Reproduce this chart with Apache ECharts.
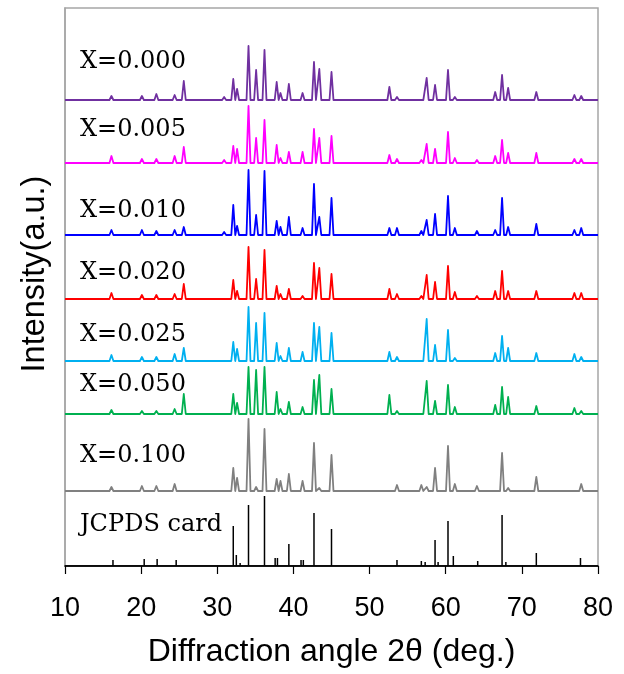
<!DOCTYPE html>
<html>
<head>
<meta charset="utf-8">
<script src="https://cdn.jsdelivr.net/npm/echarts@6/dist/echarts.min.js"></script>
<style>
html,body{margin:0;padding:0;background:#fff;}
#chart{width:624px;height:674px;}
</style>
</head>
<body>
<div id="chart"></div>
<script>
// ---- data ----
const xTicks = [10, 20, 30, 40, 50, 60, 70, 80];
const sampleNames = ['X=0.000', 'X=0.005', 'X=0.010', 'X=0.020', 'X=0.025', 'X=0.050', 'X=0.100'];
const sampleColors = ['#7030a0', '#ff00ff', '#0000ff', '#ff0000', '#00b0f0', '#00b050', '#808080'];
// vertical offsets of each stacked pattern (a.u.)
const sampleOffsets = [466, 403, 331, 267, 205, 152, 75];

// peak positions (2θ, deg.) shared by the measured patterns
const peakPos = [16.1, 18.2, 20.1, 22.0, 24.4, 25.6, 30.9, 32.1, 32.6, 34.1, 35.1, 36.2, 37.8, 38.3, 39.4, 41.2, 42.7, 43.4, 45.0, 47.6, 49.4, 50.5, 52.6, 53.6, 56.8, 57.5, 58.6, 60.3, 61.2, 64.1, 66.5, 67.4, 68.2, 71.9, 76.9, 77.8];

// peak intensities (a.u.) for each sample
const int000 = [4, 1, 4, 6, 5, 19, 3, 21, 11, 54, 30, 50, 18, 7, 16, 7, 38, 31, 28, 2, 2, 2, 13, 3, 1, 22, 15, 30, 3, 1, 8, 25, 12, 8, 5, 4];
const int005 = [7, 1, 4, 4, 7, 16, 3, 17, 14, 57, 25, 43, 18, 5, 11, 11, 34, 25, 27, 2, 2, 2, 8, 4, 3, 19, 14, 31, 5, 3, 7, 23, 10, 10, 4, 4];
const int010 = [5, 1, 5, 4, 5, 8, 3, 30, 9, 65, 20, 64, 14, 8, 18, 7, 51, 18, 37, 2, 2, 2, 7, 7, 4, 15, 21, 39, 7, 4, 5, 37, 8, 11, 5, 7];
const int020 = [6, 1, 4, 4, 5, 15, 2, 19, 8, 52, 20, 49, 13, 5, 10, 3, 36, 31, 25, 2, 2, 2, 10, 5, 3, 24, 17, 33, 7, 3, 8, 28, 8, 8, 6, 6];
const int025 = [6, 1, 4, 4, 7, 13, 2, 19, 12, 54, 38, 48, 18, 5, 13, 9, 38, 34, 28, 2, 2, 2, 9, 4, 2, 42, 16, 31, 3, 2, 8, 25, 13, 8, 7, 4];
const int050 = [4, 1, 3, 3, 5, 20, 2, 20, 11, 47, 44, 47, 22, 5, 12, 7, 34, 39, 25, 2, 2, 2, 19, 3, 2, 33, 13, 29, 7, 2, 9, 27, 17, 8, 6, 3];
const int100 = [4, 1, 5, 5, 7, 0, 2, 23, 13, 72, 4, 62, 12, 10, 17, 10, 48, 3, 36, 2, 1, 2, 0, 6, 6, 4, 23, 45, 7, 5, 2, 38, 3, 14, 2, 7];
const sampleIntensities = [int000, int005, int010, int020, int025, int050, int100];

// JCPDS reference card
const cardName = 'JCPDS card';
const cardPos = [16.3, 18.3, 20.4, 22.1, 24.6, 30.9, 32.1, 32.5, 33.0, 34.1, 36.2, 37.6, 37.9, 39.4, 41.0, 41.3, 42.7, 45.0, 53.6, 56.8, 57.3, 58.6, 59.0, 60.3, 61.0, 63.6, 64.2, 67.4, 67.9, 71.9, 73.5, 76.8, 77.7];
const cardInt = [6, 2, 7, 7, 6, 2, 40, 11, 3, 61, 70, 8, 8, 22, 6, 6, 53, 37, 6, 5, 4, 26, 4, 45, 10, 2, 5, 51, 4, 13, 1, 2, 8];

// ---- build ----
const HW = 0.26; // half base width of a peak in degrees
function buildPattern(pos, ints, off) {
  const d = [[xTicks[0], off]];
  pos.forEach((p, i) => {
    if (ints[i] > 0) {
      d.push([p - HW, off], [p, off + ints[i]], [p + HW, off]);
    }
  });
  d.push([xTicks[xTicks.length - 1], off]);
  return d;
}
function buildSticks(pos, ints) {
  const d = [[xTicks[0], 0]];
  pos.forEach((p, i) => { d.push([p, 0], [p, ints[i]], [p, 0]); });
  d.push([xTicks[xTicks.length - 1], 0]);
  return d;
}

const series = sampleNames.map((n, k) => ({
  name: n,
  type: 'line',
  data: buildPattern(peakPos, sampleIntensities[k], sampleOffsets[k]),
  showSymbol: false,
  symbol: 'none',
  lineStyle: { color: sampleColors[k], width: 1.8, join: 'round' },
  itemStyle: { color: sampleColors[k] },
  animation: false,
  silent: true
}));
series.push({
  name: cardName,
  type: 'line',
  data: buildSticks(cardPos, cardInt),
  showSymbol: false,
  symbol: 'none',
  lineStyle: { color: '#000', width: 1.5 },
  animation: false,
  silent: true
});

const labelYs = [62, 130, 211, 273, 335, 385, 456, 525];
const labelTexts = sampleNames.concat([cardName]);
const graphics = labelTexts.map((t, i) => ({
  type: 'text',
  x: 80,
  y: labelYs[i],
  style: { text: t, font: '24px "DejaVu Serif"', fill: '#000', verticalAlign: 'middle', align: 'left' },
  silent: true
}));
graphics.push({
  type: 'text',
  x: 35,
  y: 274,
  rotation: Math.PI / 2,
  style: { text: 'Intensity(a.u.)', font: '32.5px "Liberation Sans", Arial', fill: '#000', verticalAlign: 'middle', align: 'center' },
  silent: true
});

const chart = echarts.init(document.getElementById('chart'), null, { renderer: 'canvas' });
chart.setOption({
  backgroundColor: '#fff',
  animation: false,
  grid: { left: 65, right: 26, top: 8, bottom: 108, show: true, borderColor: '#a6a6a6', borderWidth: 1.5, containLabel: false },
  xAxis: {
    type: 'value', min: 10, max: 80, interval: 10,
    name: 'Diffraction angle 2θ (deg.)', nameLocation: 'middle', nameGap: 70,
    nameTextStyle: { fontSize: 32, color: '#000', fontFamily: '"Liberation Sans", Arial' },
    axisLine: { lineStyle: { color: '#000', width: 1.5 } },
    axisTick: { show: true, length: 8, lineStyle: { color: '#000', width: 1.2 } },
    axisLabel: { fontSize: 27, color: '#000', margin: 29, fontFamily: '"Liberation Sans", Arial' },
    splitLine: { show: false }
  },
  yAxis: {
    type: 'value', min: 0, max: 558,
    axisLine: { show: true, lineStyle: { color: '#a6a6a6', width: 1.5 } },
    axisTick: { show: false }, axisLabel: { show: false }, splitLine: { show: false }
  },
  graphic: graphics,
  series: series
});
</script>
</body>
</html>
